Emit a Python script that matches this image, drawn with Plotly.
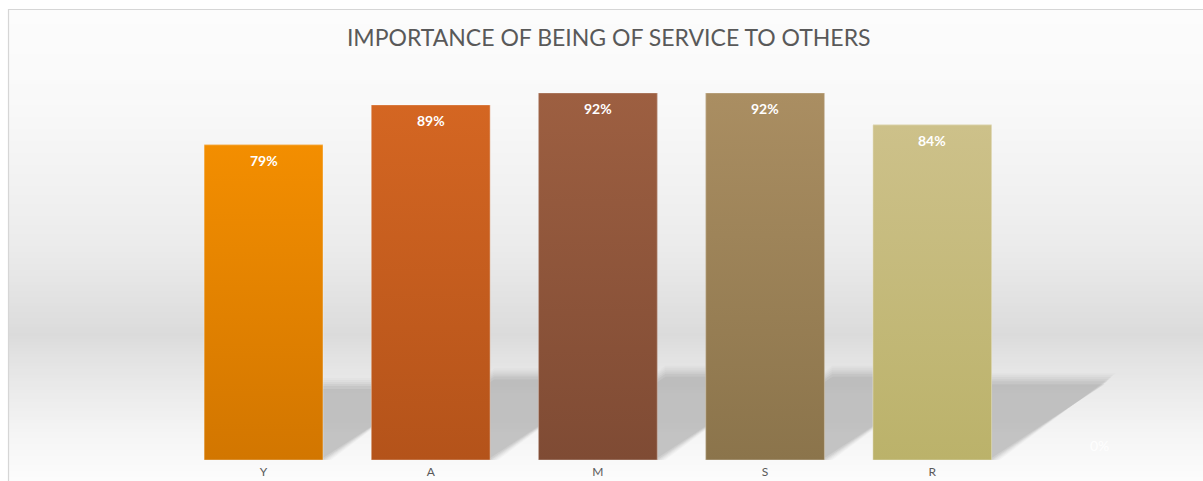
import plotly.graph_objects as go

# ---- data ----
categories = ["Y", "A", "M", "S", "R", ""]
values = [0.79, 0.89, 0.92, 0.92, 0.84, 0.0]
top_colors = ["#f38e00", "#d46622", "#9d5f41", "#aa8e62", "#cdc18a", "#cccccc"]
bottom_colors = ["#d27600", "#b4531a", "#7f4b34", "#8b744b", "#bbb26a", "#cccccc"]
title_text = "IMPORTANCE OF BEING OF SERVICE TO OTHERS"

# ---- geometry of the figure ----
W, H = 1203, 481
M_L, M_R, M_T, M_B = 180, 20, 61, 21
PLOT_W = W - M_L - M_R
PLOT_H = H - M_T - M_B
BAR_W = 0.71


def px_to_paper_x(px):
    return (px - M_L) / PLOT_W


def px_to_paper_y(py):
    return (H - M_B - py) / PLOT_H


def mix(c1, c2, t):
    a = [int(c1[i:i + 2], 16) for i in (1, 3, 5)]
    b = [int(c2[i:i + 2], 16) for i in (1, 3, 5)]
    return "#" + "".join(f"{round(a[k] + (b[k] - a[k]) * t):02x}" for k in range(3))


positions = list(range(len(categories)))
fig = go.Figure()

# plain bars underneath
fig.add_trace(go.Bar(
    x=positions, y=values, width=BAR_W,
    marker=dict(color=[mix(t, b, 0.5) for t, b in zip(top_colors, bottom_colors)],
                line=dict(width=0)),
    hoverinfo="skip", showlegend=False,
))

# vertical gradient face on each bar
for i, v in enumerate(values):
    if v <= 0:
        continue
    x0, x1 = i - BAR_W / 2, i + BAR_W / 2
    fig.add_trace(go.Scatter(
        x=[x0, x1, x1, x0, x0], y=[0, 0, v, v, 0],
        mode="lines", fill="toself",
        line=dict(width=1, color="rgba(255,255,255,0.35)"),
        fillgradient=dict(type="vertical",
                          colorscale=[[0, bottom_colors[i]], [1, top_colors[i]]]),
        hoverinfo="skip", showlegend=False,
    ))

shapes = []

# chart-area background: soft horizontal "floor" shading
bg_stops = [(9, 252), (100, 249), (170, 243), (250, 235), (300, 226),
            (335, 219), (360, 227), (400, 237), (440, 246), (481, 252)]
band = 3
py = 9
while py < H:
    nxt = min(py + band, H)
    mid = (py + nxt) / 2
    for (ya, ga), (yb, gb) in zip(bg_stops, bg_stops[1:]):
        if ya <= mid <= yb:
            g = round(ga + (gb - ga) * (mid - ya) / (yb - ya))
            break
    shapes.append(dict(type="rect", xref="paper", yref="paper", layer="below",
                       x0=px_to_paper_x(8), x1=px_to_paper_x(W + 5),
                       y0=px_to_paper_y(nxt + 0.5), y1=px_to_paper_y(py),
                       fillcolor=f"rgb({g},{g},{g})", line=dict(width=0)))
    py = nxt

# chart-area border
shapes.append(dict(type="rect", xref="paper", yref="paper", layer="below",
                   x0=px_to_paper_x(8.5), x1=px_to_paper_x(W + 20),
                   y0=px_to_paper_y(H + 20), y1=px_to_paper_y(9.5),
                   fillcolor="rgba(0,0,0,0)", line=dict(width=1.2, color="#d6d6d6")))

# floor shadows cast back and to the right, softened by layering
cat_px = PLOT_W / len(categories)
for i, v in enumerate(values):
    if v <= 0:
        continue
    shift = 0.825 * v
    rise = 0.235 * v
    for grow, op in [(8, 0.07), (6, 0.09), (4, 0.11), (2, 0.14), (0, 0.2), (-3, 0.26)]:
        gx = grow / cat_px
        gy = grow / PLOT_H
        x0, x1 = i - BAR_W / 2, i + BAR_W / 2 + gx
        path = (f"M {x0},0 L {x1},0 L {x1 + shift},{rise + gy} "
                f"L {x0 + shift},{rise + gy} Z")
        shapes.append(dict(type="path", xref="x", yref="y", layer="below",
                           path=path, fillcolor="#a6a6a6", opacity=op,
                           line=dict(width=0)))

# value labels near the top of each bar
annotations = []
for i, v in enumerate(values):
    if v > 0:
        annotations.append(dict(
            x=i, y=v, xref="x", yref="y", text=f"{round(v * 100)}%",
            showarrow=False, yanchor="middle", yshift=-16,
            font=dict(family="Lato", size=14, color="white", weight="bold")))
    else:
        annotations.append(dict(
            x=i, y=v, xref="x", yref="y", text=f"{round(v * 100)}%",
            showarrow=False, yanchor="middle", yshift=15,
            font=dict(family="Lato", size=14, color="rgba(255,255,255,0.9)")))

fig.update_layout(
    width=W, height=H,
    margin=dict(l=M_L, r=M_R, t=M_T, b=M_B, pad=0, autoexpand=False),
    paper_bgcolor="white", plot_bgcolor="rgba(0,0,0,0)",
    title=dict(text=title_text, x=0.506, xref="container", xanchor="center",
               y=1 - 38 / H, yref="container", yanchor="middle",
               font=dict(family="Lato", size=23, color="#595959")),
    shapes=shapes, annotations=annotations,
    bargap=0.29, showlegend=False,
    xaxis=dict(range=[-0.5, len(categories) - 0.5], tickmode="array",
               tickvals=positions, ticktext=categories, automargin=False,
               showgrid=False, zeroline=False, showline=False,
               ticks="outside", ticklen=1, tickcolor="rgba(0,0,0,0)",
               tickfont=dict(family="Lato", size=12, color="#595959"),
               fixedrange=True),
    yaxis=dict(range=[0, 1], visible=False, fixedrange=True, automargin=False),
)

fig.write_html("out.html")
